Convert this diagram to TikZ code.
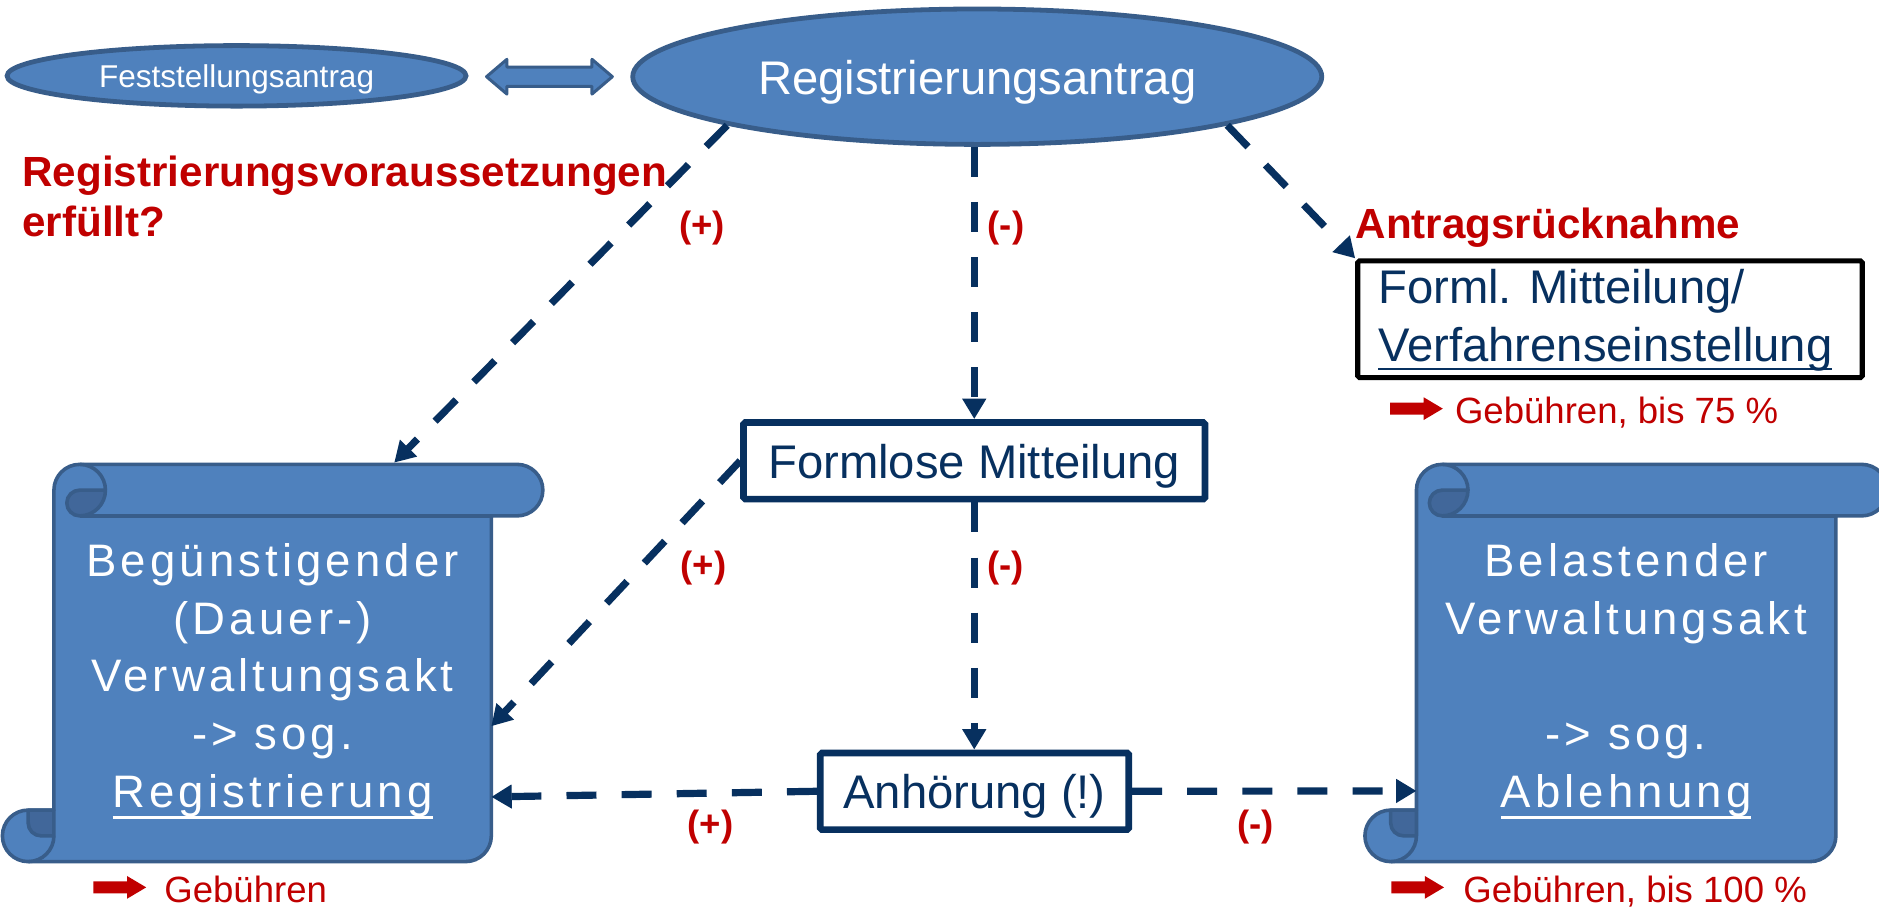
\documentclass[tikz,border=0pt]{standalone}
\usepackage{fontspec}
\setmainfont{Liberation Sans}
\newfontfamily\scrollfont{Liberation Sans}[LetterSpace=9]
\usetikzlibrary{arrows.meta,shapes.geometric}

\definecolor{accent}{HTML}{4F81BD}
\definecolor{accentedge}{HTML}{385D8A}
\definecolor{accentdark}{HTML}{41679A}
\definecolor{navy}{HTML}{07305F}
\definecolor{alert}{HTML}{C00000}

% underline with adjustable drop and thickness
\newsavebox\ulinebox
\newcommand{\uln}[3]{\sbox\ulinebox{#3}\rlap{\rule[-#1]{\wd\ulinebox}{#2}}\usebox\ulinebox}

% vertical scroll: #1 sheet left, #2 sheet right, #3 top, #4 bottom
\newcommand{\drawscroll}[4]{%
  \filldraw[scrollbody] (#1,#3+21.5) arc[start angle=180,end angle=270,radius=21.5]
    -- (#2+21.5,#3) arc[start angle=270,end angle=450,radius=21.5]
    -- (#2,#3+43) -- (#2,#4-21.5) arc[start angle=0,end angle=90,radius=21.5]
    -- (#1-21.5,#4) arc[start angle=90,end angle=270,radius=21.5]
    -- (#1,#4-43) -- cycle;
  \draw[scrollseam] (#1+21.5,#3+43) -- (#2,#3+43);
  \filldraw[scrollcurl] (#1+21.5,#3+21.5) -- (#1+43,#3+21.5)
    arc[start angle=0,end angle=90,radius=21.5]
    arc[start angle=90,end angle=270,radius=10.75] -- cycle;
  \draw[scrollseam] (#1+21.5,#3) arc[start angle=270,end angle=360,radius=21.5];
  \filldraw[scrollcurl] (#1-21.5,#4-43) -- (#1,#4-43) -- (#1,#4-21.5) -- (#1-10.75,#4-21.5)
    arc[start angle=90,end angle=180,radius=10.75] -- cycle;
  \draw[scrollseam] (#1,#4-21.5) arc[start angle=0,end angle=90,radius=21.5];
}

% small red block arrow in front of the fee notes: #1 left x, #2 centre y
\newcommand{\feearrow}[2]{%
  \fill[alert] (#1,#2-5) -- (#1+28,#2-5) -- (#1+28,#2-9.5) -- (#1+44,#2)
    -- (#1+28,#2+9.5) -- (#1+28,#2+5) -- (#1,#2+5) -- cycle;}

\begin{document}
\begin{tikzpicture}[x=1pt,y=-1pt,
  scrollbody/.style={fill=accent,draw=accentedge,line width=3pt,line join=round},
  scrollcurl/.style={fill=accentdark,draw=accentedge,line width=3pt,line join=round},
  scrollseam/.style={draw=accentedge,line width=3pt},
  oval/.style={ellipse,fill=accent,draw=accentedge,line width=4pt,inner sep=0pt,text=white},
  boxnode/.style={rectangle,draw=navy,fill=white,line width=5.6pt,rounded corners=1.5pt,
    inner sep=0pt,text=navy,font=\fontsize{39.4}{47}\selectfont,text height=29.2pt,text depth=0pt},
  flow/.style={draw=navy,line width=6pt,dash pattern=on 25pt off 21pt,
    -{Triangle[width=19pt,length=17pt]}},
  sign/.style={anchor=base,inner sep=0pt,text=alert,font=\bfseries\fontsize{30.5}{36}\selectfont},
  heading/.style={anchor=base west,inner sep=0pt,text=alert,font=\bfseries\fontsize{35.2}{42}\selectfont},
  feetext/.style={anchor=base west,inner sep=0pt,text=alert,font=\fontsize{30.5}{36}\selectfont},
  scrolltext/.style={anchor=north,inner sep=0pt,align=center,text=white,
    font=\scrollfont\fontsize{38}{48.2}\selectfont}]

\useasboundingbox (0,0) rectangle (1568,760);
\fill[white] (0,0) rectangle (1568,760);

% the two applications
\node[oval,minimum width=383pt,minimum height=50.5pt,text height=19.5pt,text depth=0pt,
  font=\fontsize{26.3}{32}\selectfont] (fest) at (197.4,63.3) {Feststellungsantrag};
\node[oval,minimum width=575pt,minimum height=113pt,text height=29.2pt,text depth=0pt,
  font=\fontsize{39.4}{47}\selectfont] (reg) at (815.5,64) {Registrierungsantrag};

% block double arrow between them
\filldraw[fill=accent,draw=accentedge,line width=2.5pt,line join=round]
  (406,64) -- (423,49.5) -- (423,56) -- (494,56) -- (494,49.5) -- (511,64)
  -- (494,78.5) -- (494,72) -- (423,72) -- (423,78.5) -- cycle;

% question and withdrawal headings
\node[heading] (qA) at (18.6,156) {Registrierungsvoraussetzungen};
\node[heading] (qB) at (18.6,197.5) {erfüllt?};
\node[heading] (antr) at (1131,199) {Antragsrücknahme};

% procedural steps
\node[boxnode,minimum width=385pt,minimum height=64pt] (formlose) at (813,384.5) {Formlose Mitteilung};
\node[boxnode,minimum width=257.4pt,minimum height=64pt] (anhoerung) at (813.2,660.3) {Anhörung (!)};
\node[rectangle,draw=black,line width=4.2pt,rounded corners=1.5pt,minimum width=421pt,
  minimum height=97.4pt,inner sep=0pt] (forml) at (1343.5,266.4) {};
\node[anchor=base west,inner sep=0pt,text=navy,font=\fontsize{39.4}{47}\selectfont]
  (formlA) at (1150,253) {Forml. Mitteilung/};
\node[anchor=base west,inner sep=0pt,text=navy,font=\fontsize{39.4}{47}\selectfont]
  (formlB) at (1150,302) {\uln{6.8pt}{1.8pt}{Verfahrenseinstellung}};

% the two administrative acts (scrolls)
\drawscroll{45}{410}{387.5}{719}
\drawscroll{1182}{1532}{387.5}{719}
\node[scrolltext] (begText) at (227.5,453.3)
  {Begünstigender\\(Dauer-)\\Verwaltungsakt\\-> sog.\\\uln{10pt}{2.7pt}{Registrierung}};
\node[scrolltext] (belText) at (1357,453.3)
  {Belastender\\Verwaltungsakt\\\mbox{}\\-> sog.\\\uln{9.5pt}{2.7pt}{Ablehnung}};

% arrow targets on the scrolls
\coordinate (begTop) at (329,386);
\coordinate (begMid) at (410,606);
\coordinate (begLow) at (410,665);
\coordinate (belLow) at (1182,660);

% connectors
\draw[flow] (reg.191) -- (begTop);
\draw[flow] (reg.south -| formlose.north) -- (formlose.north);
\draw[flow] (reg.349) -- (forml.north west);
\draw[flow] (formlose.west) -- (begMid);
\draw[flow] (formlose.south) -- (formlose.south |- anhoerung.north);
\draw[flow] (anhoerung.west) -- (begLow);
\draw[flow] (anhoerung.east) -- (belLow);

% outcome signs
\node[sign] (p1) at (586,198) {(+)};
\node[sign] (m1) at (839.5,198) {(-)};
\node[sign] (p2) at (587,482) {(+)};
\node[sign] (m2) at (839,482) {(-)};
\node[sign] (p3) at (593,698) {(+)};
\node[sign] (m3) at (1048,698) {(-)};

% fee notes
\feearrow{1160}{341}
\node[feetext] (fee1) at (1214,353) {Gebühren, bis 75 \%};
\feearrow{78}{740.5}
\node[feetext] (fee2) at (137,753.5) {Gebühren};
\feearrow{1161}{740.5}
\node[feetext] (fee3) at (1221,753.5) {Gebühren, bis 100 \%};

\end{tikzpicture}
\end{document}
